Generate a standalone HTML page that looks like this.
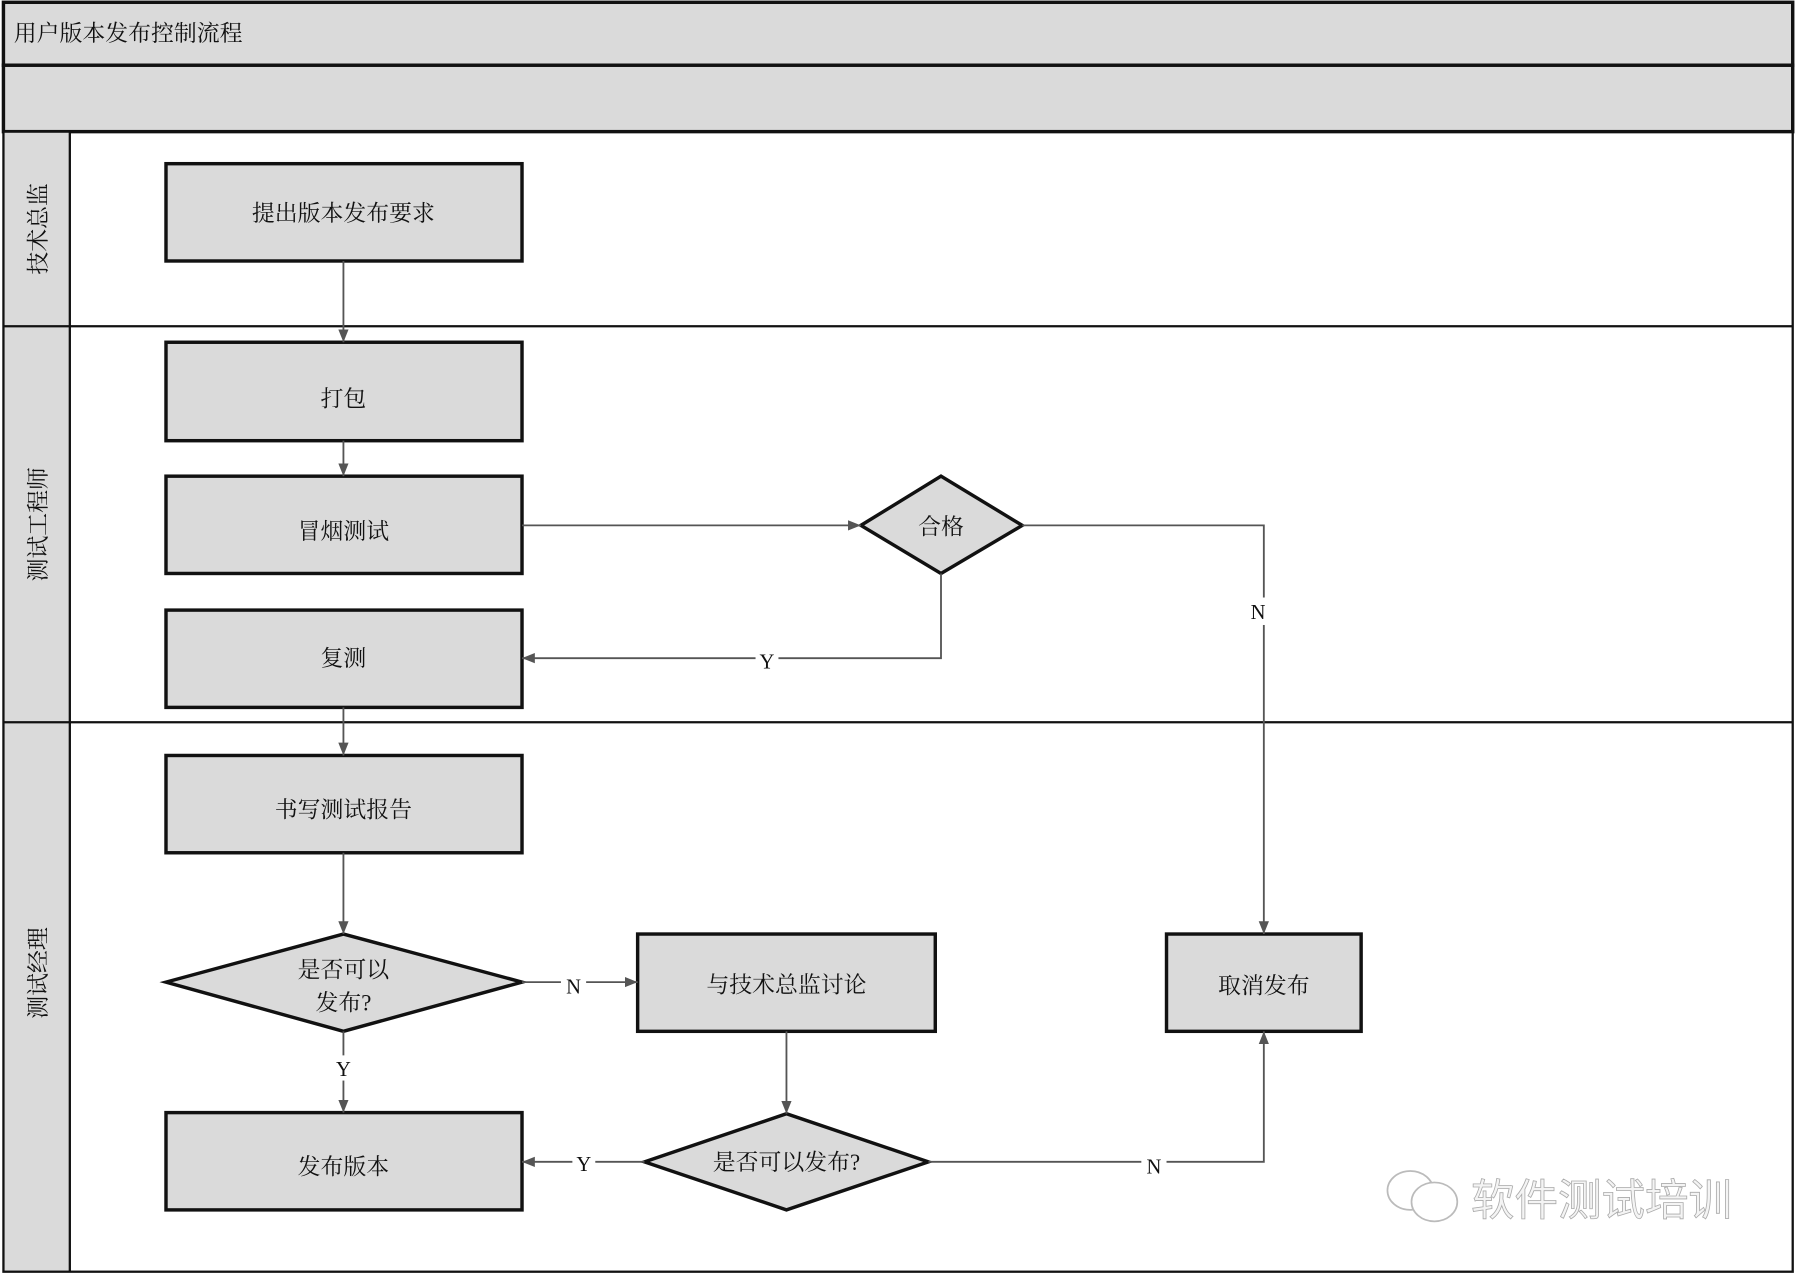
<!DOCTYPE html>
<html><head><meta charset="utf-8"><style>
html,body{margin:0;padding:0;background:#fff;width:1795px;height:1274px;overflow:hidden}
svg{display:block}
text{font-family:"Liberation Serif","Noto Serif CJK SC",serif;fill:#111}
</style></head><body>
<svg width="1795" height="1274" viewBox="0 0 1568 1113" preserveAspectRatio="none">
<defs><marker id="a" viewBox="0 0 10 10" refX="10" refY="5" markerWidth="7" markerHeight="7" orient="auto"><path d="M0,1 L10,5 L0,9 z" fill="#555"/></marker></defs>
<rect x="0" y="0" width="1568" height="1113" fill="#fff"/>
<rect x="3" y="2" width="1563" height="55" fill="#dadada" stroke="#111" stroke-width="3"/>
<rect x="3" y="57" width="1563" height="58" fill="#dadada" stroke="#111" stroke-width="3"/>
<rect x="3" y="115" width="58" height="996" fill="#dadada"/>
<g stroke="#111" stroke-width="2" fill="none">
<rect x="3" y="115" width="1563" height="996"/>
<line x1="61" y1="115" x2="61" y2="1111"/>
<line x1="3" y1="285" x2="1566" y2="285"/>
<line x1="3" y1="631" x2="1566" y2="631"/>
</g>
<text x="12" y="36" font-size="20">用户版本发布控制流程</text>
<g font-size="20" text-anchor="middle">
<text transform="translate(40,200) rotate(-90)">技术总监</text>
<text transform="translate(40,458) rotate(-90)">测试工程师</text>
<text transform="translate(40,850) rotate(-90)">测试经理</text>
</g>
<g fill="#dadada" stroke="#111" stroke-width="3">
<rect x="145" y="143" width="311" height="85"/>
<rect x="145" y="299" width="311" height="86"/>
<rect x="145" y="416" width="311" height="85"/>
<rect x="145" y="533" width="311" height="85"/>
<rect x="145" y="660" width="311" height="85"/>
<rect x="145" y="972" width="311" height="85"/>
<rect x="557" y="816" width="260" height="85"/>
<rect x="1019" y="816" width="170" height="85"/>
<polygon points="752,459 822,416 893,459 822,501"/>
<polygon points="145,858 300,816 456,858 300,901"/>
<polygon points="563,1015 687,973 811,1015 687,1057"/>
</g>
<g stroke="#555" stroke-width="1.6" fill="none" marker-end="url(#a)">
<path d="M300,228 V299"/>
<path d="M300,385 V416"/>
<path d="M456,459 H752"/>
<path d="M893,459 H1104 V816"/>
<path d="M822,501 V575 H456"/>
<path d="M300,618 V660"/>
<path d="M300,745 V816"/>
<path d="M456,858 H557"/>
<path d="M300,901 V972"/>
<path d="M687,901 V973"/>
<path d="M563,1015 H456"/>
<path d="M811,1015 H1104 V901"/>
</g>
<g font-size="20" text-anchor="middle">
<text x="300" y="193">提出版本发布要求</text>
<text x="300" y="355">打包</text>
<text x="300" y="471">冒烟测试</text>
<text x="300" y="582">复测</text>
<text x="300" y="714">书写测试报告</text>
<text x="300" y="1026">发布版本</text>
<text x="687" y="867">与技术总监讨论</text>
<text x="1104" y="868">取消发布</text>
<text x="822" y="467">合格</text>
<text x="300" y="854">是否可以</text>
<text x="300" y="883">发布?</text>
<text x="687" y="1022">是否可以发布?</text>
</g>
<g font-size="18" text-anchor="middle">
<rect x="1090" y="522" width="18" height="24" fill="#fff"/><text x="1099" y="541">N</text>
<rect x="660" y="566" width="20" height="22" fill="#fff"/><text x="670" y="584">Y</text>
<rect x="490" y="850" width="22" height="22" fill="#fff"/><text x="501" y="868">N</text>
<rect x="290" y="922" width="20" height="22" fill="#fff"/><text x="300" y="940">Y</text>
<rect x="500" y="1005" width="20" height="22" fill="#fff"/><text x="510" y="1023">Y</text>
<rect x="997" y="1007" width="22" height="22" fill="#fff"/><text x="1008" y="1025">N</text>
</g>
<g stroke="#bbb" stroke-width="1.5" fill="#fff">
<ellipse cx="1232" cy="1040" rx="20" ry="17"/>
<ellipse cx="1253" cy="1050" rx="20" ry="17"/>
</g>
<text x="1285" y="1062" font-size="38" style="font-family:'Liberation Sans','Noto Sans CJK SC',sans-serif;fill:#f4f4f4;stroke:#aaa;stroke-width:0.7">软件测试培训</text>
</svg>
</body></html>
